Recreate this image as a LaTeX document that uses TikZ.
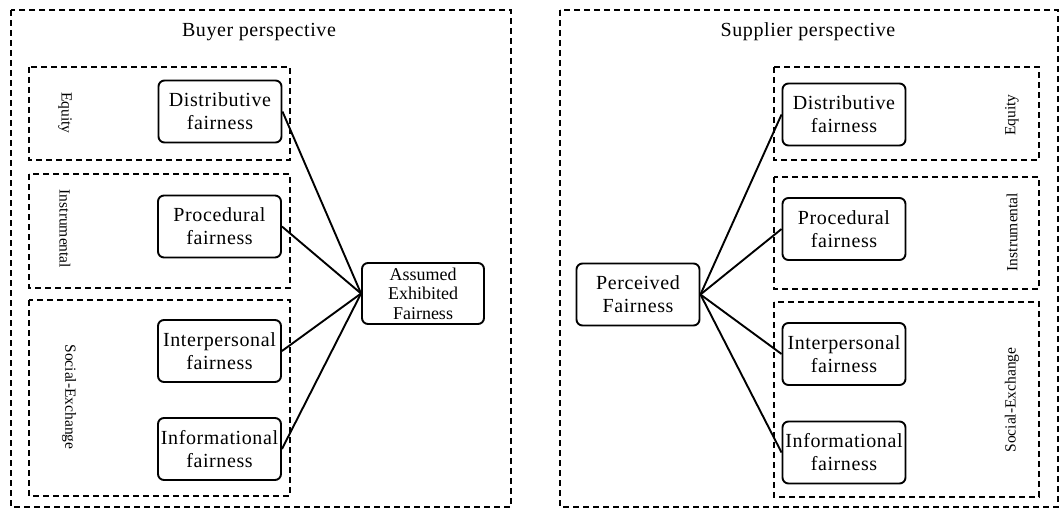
\documentclass[tikz,border=0pt]{standalone}
\usepackage{fontspec}
\setmainfont{Liberation Serif}
\begin{document}
\begin{tikzpicture}[x=1pt,y=-1pt,
  framebox/.style={draw, line width=1.4pt, dash pattern=on 6pt off 4pt},
  groupbox/.style={draw, line width=1.4pt, dash pattern=on 6pt off 4pt},
  fbox/.style={draw, line width=1.9pt, rounded corners=6pt, align=center,
    minimum width=123pt, minimum height=62pt, inner sep=0pt,
    font=\fontsize{20}{23}\selectfont\addfontfeatures{LetterSpace=3}},
  title/.style={font=\fontsize{20}{22}\selectfont\addfontfeatures{LetterSpace=3}},
  vlabel/.style={font=\fontsize{15.5}{16}\selectfont, inner sep=0pt},
  link/.style={line width=1.9pt}]
\useasboundingbox (0,0) rectangle (1060,508);

% ---- buyer side ----
\draw[framebox] (11,10) rectangle (511,507);
\node[title] (bt) at (259,32) {Buyer perspective};
\draw[groupbox] (29,67) rectangle (290,160);
\draw[groupbox] (29,174) rectangle (290,288);
\draw[groupbox] (29,300) rectangle (290,496);
\node[vlabel, rotate=-90] (beq) at (65,113) {Equity};
\node[vlabel, rotate=-90] (bin) at (65,229) {Instrumental};
\node[vlabel, rotate=-90] (bse) at (69,397) {Social-Exchange};

\node[fbox] (bd) at (220,111.5) {Distributive\\fairness};
\node[fbox] (bp) at (219.5,226.5) {Procedural\\fairness};
\node[fbox] (bi) at (219.5,351) {Interpersonal\\fairness};
\node[fbox] (bf) at (219.5,449) {Informational\\fairness};
\node[fbox, minimum width=122pt, minimum height=61pt,
  font=\fontsize{18}{19.5}\selectfont] (ba) at (423,293.5)
  {Assumed\\Exhibited\\Fairness};

\foreach \n in {bd,bp,bi,bf} \draw[link] (\n.east) -- (ba.west);

% ---- supplier side ----
\draw[framebox] (560,10) rectangle (1058,507);
\node[title] (st) at (808,32) {Supplier perspective};
\draw[groupbox] (774,67) rectangle (1039,160);
\draw[groupbox] (774,177) rectangle (1039,289);
\draw[groupbox] (774,302) rectangle (1039,497);
\node[vlabel, rotate=90] (seq) at (1012,115) {Equity};
\node[vlabel, rotate=90] (sin) at (1012,232) {Instrumental};
\node[vlabel, rotate=90] (sse) at (1012,400) {Social-Exchange};

\node[fbox] (sd) at (844,114.5) {Distributive\\fairness};
\node[fbox] (sp) at (844,229) {Procedural\\fairness};
\node[fbox] (si) at (844,354) {Interpersonal\\fairness};
\node[fbox] (sf) at (844,452.5) {Informational\\fairness};
\node[fbox] (sa) at (638,294.5) {Perceived\\Fairness};

\foreach \n in {sd,sp,si,sf} \draw[link] (sa.east) -- (\n.west);
\end{tikzpicture}
\end{document}
